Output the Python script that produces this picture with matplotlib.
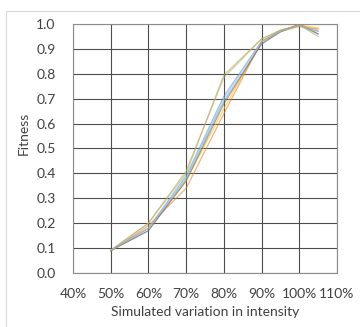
import matplotlib
matplotlib.use("Agg")
import matplotlib.pyplot as plt
from matplotlib.patches import Rectangle
from matplotlib.ticker import MultipleLocator, FuncFormatter

plt.rcParams['font.family'] = ['Lato', 'DejaVu Sans']

intensity = [0.50, 0.60, 0.70, 0.80, 0.90, 0.95, 1.00, 1.05]

series = {
    "gold":      [0.090, 0.180, 0.370, 0.660, 0.930, 0.975, 0.995, 0.985],
    "blue":      [0.090, 0.180, 0.390, 0.710, 0.930, 0.970, 0.995, 0.970],
    "orange":    [0.088, 0.190, 0.340, 0.640, 0.930, 0.970, 0.990, 0.980],
    "gray":      [0.090, 0.170, 0.380, 0.690, 0.920, 0.970, 0.995, 0.960],
    "olive":     [0.090, 0.200, 0.400, 0.795, 0.940, 0.975, 0.995, 0.950],
    "slate":     [0.090, 0.170, 0.370, 0.680, 0.920, 0.968, 1.000, 0.960],
    "lightblue": [0.090, 0.180, 0.380, 0.700, 0.930, 0.970, 0.995, 0.970],
    "tan":       [0.092, 0.200, 0.410, 0.785, 0.940, 0.975, 0.995, 0.975],
}
colors = {
    "gold": "#FFC000",
    "blue": "#5B9BD5",
    "orange": "#ED7D31",
    "gray": "#A5A5A5",
    "olive": "#9CB56A",
    "slate": "#5F6B73",
    "lightblue": "#9DC3E6",
    "tan": "#C9A86A",
}

fig = plt.figure(figsize=(3.6, 3.27), dpi=100)
fig.patches.append(Rectangle((6 / 360, -0.1), 1.2, (327 - 11) / 327 + 0.1,
                             transform=fig.transFigure, fill=False,
                             edgecolor="#D9D9D9", linewidth=0.8))
ax = fig.add_axes([73 / 360, (327 - 273) / 327, (337 - 73) / 360, (273 - 24) / 327])

for name, vals in series.items():
    ax.plot(intensity, vals, color=colors[name], linewidth=0.9, alpha=0.6)

ax.set_xlim(0.4, 1.1)
ax.set_ylim(0.0, 1.0)
ax.xaxis.set_major_locator(MultipleLocator(0.1))
ax.yaxis.set_major_locator(MultipleLocator(0.1))
ax.xaxis.set_major_formatter(FuncFormatter(lambda v, p: f"{v * 100:.0f}%"))
ax.yaxis.set_major_formatter(FuncFormatter(lambda v, p: f"{v:.1f}"))
ax.grid(True, color="#4D4D4D", linewidth=0.8)
ax.set_axisbelow(True)
for s in ax.spines.values():
    s.set_color("#8C8C8C")
    s.set_linewidth(0.8)
ax.tick_params(length=0, labelsize=10, colors="#404040")
ax.tick_params(axis="y", pad=12.5)
ax.tick_params(axis="x", pad=11)
ax.set_xlabel("Simulated variation in intensity", fontsize=10, color="#404040", labelpad=4)
ax.set_ylabel("Fitness", fontsize=10, color="#404040")
ax.yaxis.set_label_coords(-0.163, 0.56)

fig.savefig("out.png", dpi=100)
